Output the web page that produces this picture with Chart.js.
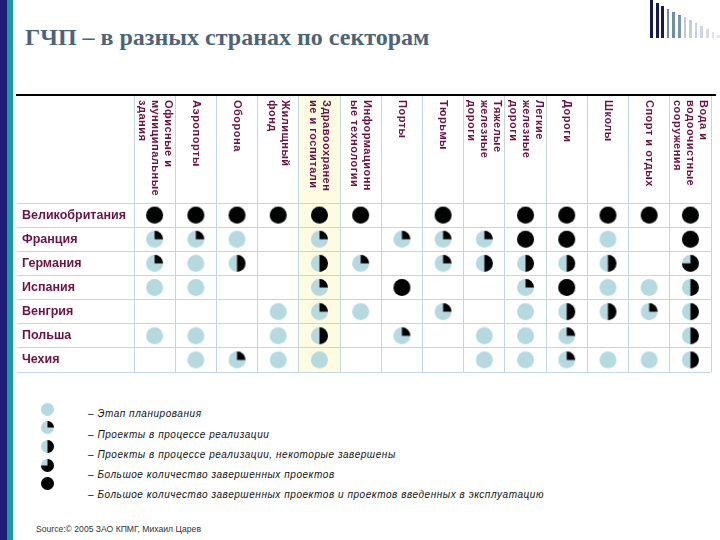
<!DOCTYPE html>
<html><head><meta charset="utf-8">
<script src="https://cdn.jsdelivr.net/npm/chart.js@4.4.1/dist/chart.umd.min.js"></script>
<style>
body{margin:0;width:720px;height:540px;overflow:hidden;background:#fff;position:relative;font-family:"Liberation Sans",Arial,sans-serif}
#c{position:absolute;left:0;top:0}
.abs{position:absolute}
#title{left:25px;top:24px;font-family:"Liberation Serif","Times New Roman",serif;font-weight:bold;font-size:24px;color:#4d6477;white-space:nowrap}
.lg{position:absolute;left:88px;font-style:italic;font-size:10px;letter-spacing:0.55px;color:#111;white-space:nowrap;line-height:12px}
#source{left:36px;top:524px;font-size:8.6px;color:#333;white-space:nowrap}
</style></head><body>
<div class="abs" style="left:0;top:0;width:7px;height:540px;background:#1e1e78"></div>
<div class="abs" style="left:7px;top:0;width:6px;height:540px;background:#1a9a9a"></div>
<div id="title" class="abs">ГЧП – в разных странах по секторам</div>
<div class="abs" style="left:16px;top:94px;width:700px;height:2px;background:#000"></div>
<div id="deco"></div>
<div id="legend"></div>
<div id="source" class="abs">Source:© 2005 ЗАО КПМГ, Михаил Царев</div>
<canvas id="c" width="720" height="540"></canvas>
<script>
// ---- data ----
const sectors = [
  ["Офисные и","муниципальные","здания"],
  ["Аэропорты"],
  ["Оборона"],
  ["Жилищный","фонд"],
  ["Здравоохранен","ие и госпитали"],
  ["Информационн","ые технологии"],
  ["Порты"],
  ["Тюрьмы"],
  ["Тяжелые","железные","дороги"],
  ["Легкие","железные","дороги"],
  ["Дороги"],
  ["Школы"],
  ["Спорт и отдых"],
  ["Вода и","водоочистные","сооружения"]
];
const countries = ["Великобритания","Франция","Германия","Испания","Венгрия","Польша","Чехия"];
// level: 0 planning, 1 in progress, 2 some completed, 3 many completed, 4 many completed & operating; null = none
const uk      = [4,4,4,4,4,4,null,4,null,4,4,4,4,4];
const france  = [1,1,0,null,1,null,1,1,1,4,4,0,null,4];
const germany = [1,0,2,null,2,1,null,1,2,2,2,2,null,3];
const spain   = [0,0,null,null,1,null,4,null,null,1,4,0,0,2];
const hungary = [null,null,null,0,1,0,null,1,null,0,2,2,1,2];
const poland  = [0,0,null,0,2,null,1,null,0,0,1,null,null,2];
const czech   = [null,0,1,0,0,null,null,null,0,0,1,0,0,2];
const rows = [uk, france, germany, spain, hungary, poland, czech];
const legendTexts = [
  "– Этап планирования",
  "– Проекты в процессе реализации",
  "– Проекты в процессе реализации, некоторые завершены",
  "– Большое количество завершенных проектов",
  "– Большое количество завершенных  проектов и проектов введенных в эксплуатацию"
];
const legendLevels = [0,1,2,3,4];

// ---- styles ----
const BLUE = "#b4d9df";
const GRID = "#c3d8de";
const MAROON = "#6a1342";

function harvey(level, r){
  const s = Math.ceil(r*2)+2;
  const c = document.createElement('canvas');
  c.width = c.height = s;
  const g = c.getContext('2d');
  const cx = s/2, cy = s/2;
  g.fillStyle = BLUE;
  g.beginPath(); g.arc(cx,cy,r,0,Math.PI*2); g.fill();
  if (level > 0){
    g.fillStyle = "#000";
    g.beginPath();
    if (level >= 4){ g.arc(cx,cy,r,0,Math.PI*2); }
    else { g.moveTo(cx,cy); g.arc(cx,cy,r,-Math.PI/2,-Math.PI/2+level*Math.PI/2); g.closePath(); }
    g.fill();
  }
  return c;
}
const balls = [0,1,2,3,4].map(l => harvey(l, 8.5));

// decoration top-right
const deco = document.getElementById('deco');
const decoCols = ["#16165a","#16165a","#16165a","#6f8ea4","#6f8ea4","#7896aa","#c4c6da","#c8cadc","#cdcfe0","#d3d4e3","#d9dae7","#e0e0eb","#e6e6ef"];
decoCols.forEach((col,i)=>{
  const d = document.createElement('div');
  d.className='abs';
  d.style.cssText = `left:${650+i*5.6}px;top:${i*2.9}px;width:${i<3?3:2.5}px;height:${38-i*2.9}px;background:${col}`;
  deco.appendChild(d);
});

// legend
const lg = document.getElementById('legend');
const ballY = [409,427,446,465,483];
const textY = [414,435,455,475,495];
legendLevels.forEach((l,i)=>{
  const c = harvey(l, 6.5);
  c.className='abs';
  c.style.left = (47 - c.width/2)+'px';
  c.style.top = (ballY[i] - c.height/2)+'px';
  lg.appendChild(c);
  const t = document.createElement('div');
  t.className='lg';
  t.style.top = (textY[i]-6)+'px';
  t.textContent = legendTexts[i];
  lg.appendChild(t);
});

const sectorNames = sectors.map(s => s.join(' '));

// build points
const points = [];
rows.forEach((row, ri) => {
  row.forEach((v, ci) => {
    if (v !== null) points.push({x: sectorNames[ci], y: countries[ri], v: v});
  });
});

const headerPlugin = {
  id: 'header',
  beforeDraw(chart){
    const ctx = chart.ctx, xs = chart.scales.x, area = chart.chartArea;
    const w = (area.right - area.left)/sectors.length;
    const xc = xs.getPixelForValue(4);
    ctx.save();
    ctx.fillStyle = "#fffbe2";
    ctx.fillRect(xc - w/2, 96, w, area.bottom - 96);
    ctx.restore();
  },
  afterDraw(chart){
    const ctx = chart.ctx, xs = chart.scales.x;
    const lh = 13;
    ctx.save();
    ctx.fillStyle = MAROON;
    ctx.font = 'bold 11px "Liberation Sans", Arial, sans-serif';
    try { ctx.letterSpacing = '0.5px'; } catch(e){}
    ctx.textAlign = 'left';
    ctx.textBaseline = 'middle';
    sectors.forEach((lines, i) => {
      const x = xs.getPixelForValue(i);
      const x0 = x + (lines.length-1)*lh/2;
      ctx.save();
      ctx.translate(x0, 100);
      ctx.rotate(Math.PI/2);
      lines.forEach((ln, k) => ctx.fillText(ln, 0, k*lh));
      ctx.restore();
    });
    ctx.restore();
  }
};

new Chart(document.getElementById('c'), {
  type: 'scatter',
  data: {
    datasets: [{
      data: points,
      pointStyle: ctx => balls[ctx.raw ? ctx.raw.v : 0],
      pointRadius: 8,
    }]
  },
  options: {
    responsive: false,
    animation: false,
    events: [],
    layout: {padding: {left: 22, top: 96, right: 7, bottom: 168}},
    plugins: {legend: {display: false}, tooltip: {enabled: false}},
    scales: {
      x: {
        type: 'category',
        labels: sectorNames,
        position: 'top',
        offset: true,
        grid: {offset: true, color: GRID, tickLength: 107, drawTicks: true, tickColor: GRID},
        border: {color: GRID},
        ticks: {display: false}
      },
      y: {
        type: 'category',
        labels: countries,
        offset: true,
        grid: {offset: true, color: GRID, tickLength: 117, drawTicks: true, tickColor: GRID},
        border: {color: GRID},
        ticks: {
          color: MAROON,
          font: {family: '"Liberation Sans", Arial, sans-serif', size: 12.5, weight: 'bold'},
          crossAlign: 'far',
          padding: 0
        },
        afterFit(scale){ scale.width = 112; }
      }
    }
  },
  plugins: [headerPlugin]
});
</script>
</body></html>
